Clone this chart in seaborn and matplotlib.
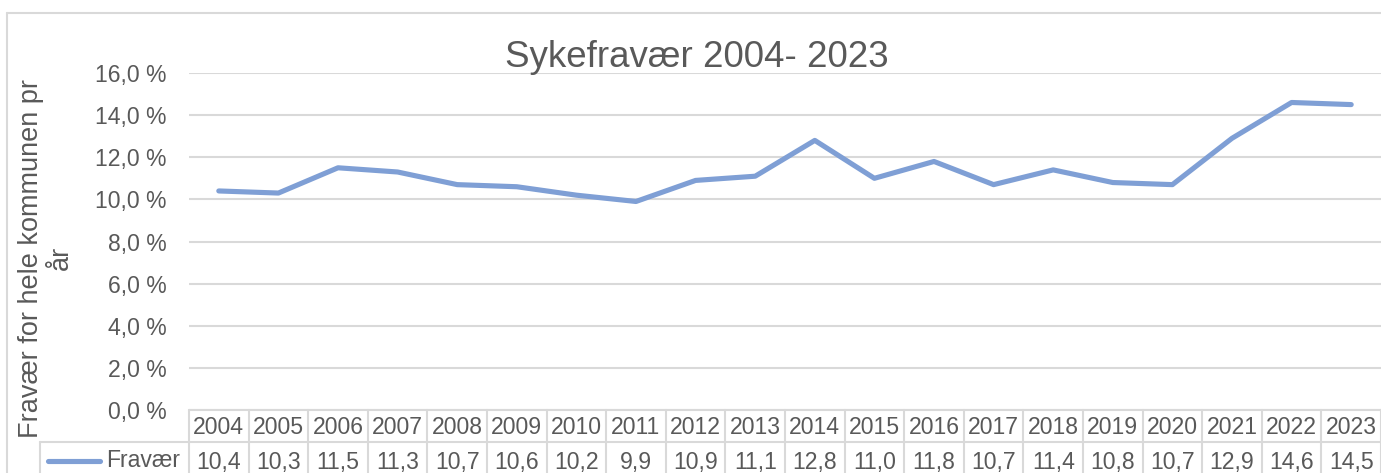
import matplotlib
matplotlib.use("Agg")
import matplotlib.pyplot as plt
import matplotlib.transforms as mtransforms
import seaborn as sns
import pandas as pd

years = [2004, 2005, 2006, 2007, 2008, 2009, 2010, 2011, 2012, 2013,
         2014, 2015, 2016, 2017, 2018, 2019, 2020, 2021, 2022, 2023]
fravaer = [10.4, 10.3, 11.5, 11.3, 10.7, 10.6, 10.2, 9.9, 10.9, 11.1,
           12.8, 11.0, 11.8, 10.7, 11.4, 10.8, 10.7, 12.9, 14.6, 14.5]
series_name = "Fravær"
title = "Sykefravær 2004- 2023"
ylabel = "Fravær for hele kommunen pr\når"
yticks = [0, 2, 4, 6, 8, 10, 12, 14, 16]

sns.set_theme(style="white")
plt.rcParams['font.family'] = ['Liberation Sans', 'DejaVu Sans']

TXT = "#595959"
GRID = "#D9D9D9"
LINE = "#7F9FD5"
FS = 16.6

W, H = 1381, 473
fig = plt.figure(figsize=(W / 100, H / 100), dpi=100)
fig.patch.set_facecolor("white")
ax = fig.add_axes([189 / W, 1 - 410 / H, (1381 - 189) / W, (410 - 73) / H])

df = pd.DataFrame({"pos": range(len(years)), "val": fravaer})
sns.lineplot(data=df, x="pos", y="val", ax=ax, color=LINE, linewidth=3.7,
             solid_capstyle="round", solid_joinstyle="round")

ax.set_xlim(-0.5, len(years) - 0.5)
ax.set_ylim(0, 16)
ax.set_yticks(yticks)
ax.set_yticklabels([f"{v:.1f} %".replace(".", ",") for v in yticks],
                   fontsize=FS, color=TXT)
ax.tick_params(axis="y", length=0, pad=16)
ax.set_xticks([])
ax.set_xlabel("")
ax.set_ylabel("")
for s in ax.spines.values():
    s.set_visible(False)
ax.grid(axis="y", color=GRID, linewidth=1.5)
ax.set_axisbelow(True)

# data table below plot
ah = 410 - 73
trans = mtransforms.blended_transform_factory(ax.transData, ax.transAxes)
r0, r1, r2 = 0, -32 / ah, -70 / ah
n = len(years)
kw = dict(color=GRID, linewidth=1.5, clip_on=False)
ax.plot([-0.5, n - 0.5], [r0, r0], transform=trans, **kw)
for i in range(n + 1):
    ax.plot([i - 0.5, i - 0.5], [r0, r2], transform=trans, **kw)
for i, (y, v) in enumerate(zip(years, fravaer)):
    ax.text(i, -17 / ah, str(y), transform=trans, ha="center", va="center",
            fontsize=FS, color=TXT, clip_on=False)
    ax.text(i, -52 / ah, f"{v:.1f}".replace(".", ","), transform=trans,
            ha="center", va="center", fontsize=FS, color=TXT, clip_on=False)

# legend row cell (figure coordinates)
ft = fig.transFigure
fig.add_artist(plt.Line2D([40 / W, 189 / W], [1 - 442 / H, 1 - 442 / H],
                          transform=ft, color=GRID, linewidth=1.5))
ax.plot([-0.5, n - 0.5], [r1, r1], transform=trans, **kw)
fig.add_artist(plt.Line2D([40 / W, 40 / W], [0, 1 - 442 / H],
                          transform=ft, color=GRID, linewidth=1.5))
fig.add_artist(plt.Line2D([48 / W, 100 / W], [1 - 461 / H, 1 - 461 / H],
                          transform=ft, color=LINE, linewidth=3.7,
                          solid_capstyle="round"))
fig.text(106 / W, 1 - 460 / H, series_name, ha="left", va="center",
         fontsize=FS, color=TXT)

# chart border
fig.add_artist(plt.Line2D([7 / W, 1], [1 - 13 / H, 1 - 13 / H],
                          transform=ft, color=GRID, linewidth=1.5))
fig.add_artist(plt.Line2D([7 / W, 7 / W], [0, 1 - 13 / H],
                          transform=ft, color=GRID, linewidth=1.5))

fig.text(697 / W, 1 - 67 / H, title, ha="center", va="baseline",
         fontsize=26.5, color=TXT)
fig.text(46 / W, 1 - 258 / H, ylabel, ha="center", va="center",
         rotation=90, fontsize=19.5, color=TXT, linespacing=1.15,
         multialignment="center")

fig.savefig("out.png", dpi=100, facecolor="white")
